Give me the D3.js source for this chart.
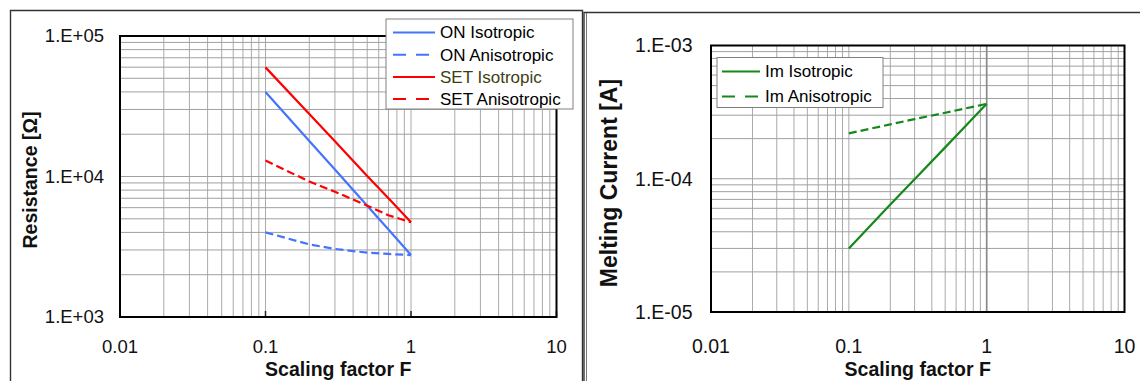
<!DOCTYPE html>
<html><head><meta charset="utf-8">
<script src="https://cdn.jsdelivr.net/npm/d3@7"></script>
<style>
html,body{margin:0;padding:0;background:#fff;}
svg{display:block;font-family:"Liberation Sans",Arial,sans-serif;}
</style></head>
<body>
<svg id="c" width="1140" height="381"></svg>
<script>
// ---- data ----
const scaleF = [0.1, 0.2, 0.3, 0.5, 0.7, 1];
const onIsotropic = [40000, 17900, 11200, 6200, 4200, 2760];
const onAnisotropic = [4000, 3290, 3050, 2870, 2810, 2760];
const setIsotropic = [59800, 27900, 17800, 10100, 7000, 4720];
const setAnisotropic = [13000, 9200, 7800, 6200, 5300, 4720];
const imIsotropic = [3.0e-5, 6.4e-5, 9.9e-5, 1.72e-4, 2.48e-4, 3.65e-4];
const imAnisotropic = [2.19e-4, 2.56e-4, 2.8e-4, 3.13e-4, 3.37e-4, 3.65e-4];
const xTicks = [0.01, 0.1, 1, 10];
const xTickLabels = ["0.01", "0.1", "1", "10"];
const resTicks = [1e3, 1e4, 1e5];
const resTickLabels = ["1.E+03", "1.E+04", "1.E+05"];
const curTicks = [1e-5, 1e-4, 1e-3];
const curTickLabels = ["1.E-05", "1.E-04", "1.E-03"];
const leftLegend = ["ON Isotropic", "ON Anisotropic", "SET Isotropic", "SET Anisotropic"];
const rightLegend = ["Im Isotropic", "Im Anisotropic"];

const BLUE = "#4474ff", RED = "#ff0000", GREEN = "#14891a";
const svg = d3.select("#c");

// outer frames
svg.append("path").attr("d","M10.5,381 V10.5 H582.5 V381").attr("fill","none").attr("stroke","#333").attr("stroke-width",1.4);
svg.append("path").attr("d","M584,381 V12.5 H1140").attr("fill","none").attr("stroke","#333").attr("stroke-width",1.4);
svg.append("line").attr("x1",586.5).attr("x2",586.5).attr("y1",13).attr("y2",381).attr("stroke","#777").attr("stroke-width",1);

function minorVals(domain){
  const out=[];
  const e0=Math.round(Math.log10(domain[0])), e1=Math.round(Math.log10(domain[1]));
  for(let e=e0;e<e1;e++) for(let m=1;m<10;m++) out.push(m*Math.pow(10,e));
  out.push(Math.pow(10,e1));
  return out;
}

function chart(o){
  const x = d3.scaleLog().domain([0.01,10]).range([o.left,o.right]);
  const y = d3.scaleLog().domain(o.yDomain).range([o.bottom,o.top]);
  const g = svg.append("g");
  // grid
  g.append("g").selectAll("line").data(minorVals(x.domain())).join("line")
    .attr("x1",d=>x(d)).attr("x2",d=>x(d)).attr("y1",o.top).attr("y2",o.bottom)
    .attr("stroke","#aaaaaa").attr("stroke-width",1);
  g.append("g").selectAll("line").data(minorVals(y.domain())).join("line")
    .attr("y1",d=>y(d)).attr("y2",d=>y(d)).attr("x1",o.left).attr("x2",o.right)
    .attr("stroke","#a0a0a0").attr("stroke-width",1);
  if(o.axisAt1){
    g.append("line").attr("x1",x(1)).attr("x2",x(1)).attr("y1",o.top).attr("y2",o.bottom)
      .attr("stroke","#888").attr("stroke-width",1.6);
    g.append("g").selectAll("line").data(o.yTicks).join("line")
      .attr("x1",x(1)-7).attr("x2",x(1)).attr("y1",d=>y(d)).attr("y2",d=>y(d))
      .attr("stroke","#888").attr("stroke-width",1.2);
  } else {
    g.append("g").selectAll("line").data(xTicks).join("line")
      .attr("x1",d=>x(d)).attr("x2",d=>x(d)).attr("y1",o.bottom).attr("y2",o.bottom-6)
      .attr("stroke","#222").attr("stroke-width",1.5);
  }
  // series
  const line = d3.line().x(d=>x(d[0])).y(d=>y(d[1]));
  o.series.forEach(s=>{
    g.append("path").datum(scaleF.map((f,i)=>[f,s.values[i]]))
      .attr("d",line).attr("fill","none").attr("stroke",s.color).attr("stroke-width",2.2)
      .attr("stroke-dasharray",s.dash?"8,4":null);
  });
  // border
  g.append("rect").attr("x",o.left).attr("y",o.top).attr("width",o.right-o.left).attr("height",o.bottom-o.top)
    .attr("fill","none").attr("stroke","#000").attr("stroke-width",2);
  // tick labels
  g.append("g").selectAll("text").data(o.yTicks).join("text")
    .attr("x",o.yLabelX).attr("y",d=>y(d)).attr("dy","0.35em").attr("text-anchor","end")
    .attr("font-size",o.tickSize).attr("fill","#111").text((d,i)=>o.yTickLabels[i]);
  g.append("g").selectAll("text").data(xTicks).join("text")
    .attr("x",d=>x(d)).attr("y",353).attr("text-anchor","middle")
    .attr("font-size",o.tickSize).attr("fill","#111").text((d,i)=>xTickLabels[i]);
  // titles
  g.append("text").attr("x",(o.left+o.right)/2).attr("y",375.5).attr("text-anchor","middle")
    .attr("font-weight","bold").attr("font-size",19.5).attr("fill","#111").text("Scaling factor F");
  g.append("text").attr("transform",`translate(${o.yTitleX},${o.yTitleY}) rotate(-90)`)
    .attr("text-anchor","middle").attr("dy","0.35em").attr("font-weight","bold").attr("font-size",o.yTitleSize)
    .attr("fill","#111").text(o.yTitle);
  // legend
  const L=o.legend;
  const lg=g.append("g");
  lg.append("rect").attr("x",L.x).attr("y",L.y).attr("width",L.w).attr("height",L.h)
    .attr("fill","#fff").attr("stroke","#808080").attr("stroke-width",1);
  o.series.forEach((s,i)=>{
    const yy=L.y+L.row0+i*L.step;
    lg.append("line").attr("x1",L.x+L.s0).attr("x2",L.x+L.s1).attr("y1",yy).attr("y2",yy)
      .attr("stroke",s.color).attr("stroke-width",2).attr("stroke-dasharray",s.dash?"13,10":null);
    lg.append("text").attr("x",L.x+L.t0).attr("y",yy).attr("dy","0.35em").attr("font-size",17)
      .attr("fill",s.textColor||"#000").text(s.name);
  });
}

chart({
  left:120, right:556.5, top:36, bottom:317,
  yDomain:[1e3,1e5], yTicks:resTicks, yTickLabels:resTickLabels,
  yLabelX:104, tickSize:18.5,
  yTitle:"Resistance [Ω]", yTitleX:30, yTitleY:180, yTitleSize:19.5,
  series:[
    {name:leftLegend[0], values:onIsotropic, color:BLUE, dash:false},
    {name:leftLegend[1], values:onAnisotropic, color:BLUE, dash:true},
    {name:leftLegend[2], values:setIsotropic, color:RED, dash:false, textColor:"#3e3e12"},
    {name:leftLegend[3], values:setAnisotropic, color:RED, dash:true}
  ],
  legend:{x:386, y:19, w:187, h:90, row0:13.5, step:22.2, s0:7, s1:49, t0:54}
});

chart({
  left:711, right:1124.5, top:45.5, bottom:312,
  yDomain:[1e-5,1e-3], yTicks:curTicks, yTickLabels:curTickLabels,
  yLabelX:692.5, tickSize:19.5, axisAt1:true,
  yTitle:"Melting Current [A]", yTitleX:609, yTitleY:183, yTitleSize:23,
  series:[
    {name:rightLegend[0], values:imIsotropic, color:GREEN, dash:false},
    {name:rightLegend[1], values:imAnisotropic, color:GREEN, dash:true}
  ],
  legend:{x:717, y:57.5, w:166, h:50, row0:14, step:25, s0:5, s1:43, t0:48}
});
</script>
</body></html>
